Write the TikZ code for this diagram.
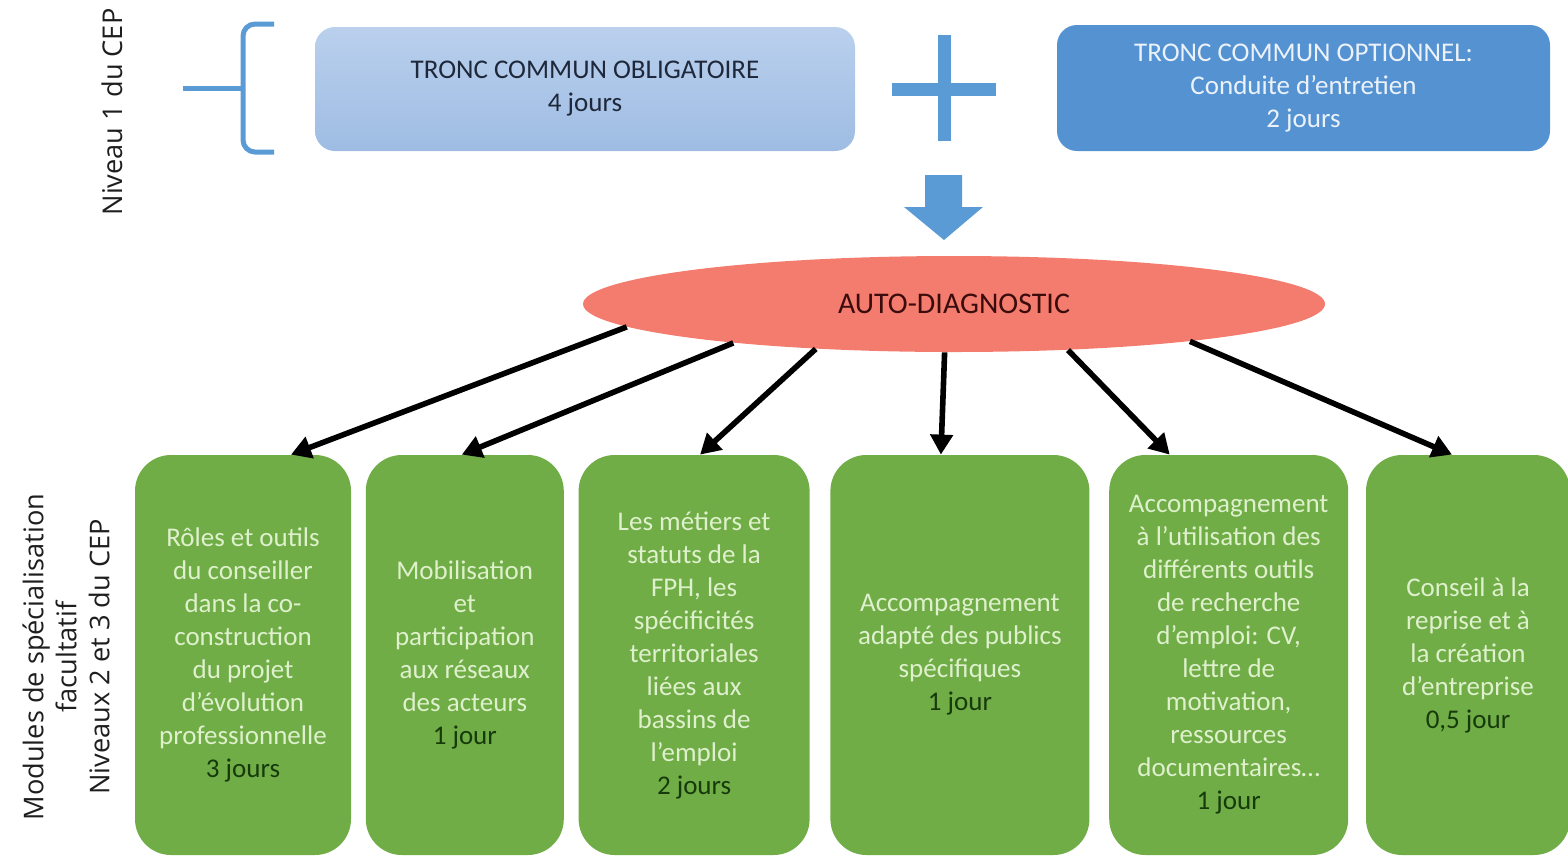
\documentclass[tikz,border=0pt]{standalone}
\usepackage{fontspec}
\setmainfont{Carlito}
\newfontfamily\sidefont{Open Sans}
\usetikzlibrary{positioning,shapes.geometric,arrows.meta}

\definecolor{cepblue}{RGB}{91,155,213}
\definecolor{troncdark}{RGB}{84,146,210}
\definecolor{troncltop}{RGB}{186,208,237}
\definecolor{tronclbot}{RGB}{158,188,227}
\definecolor{tronctext}{RGB}{30,40,58}
\definecolor{troncwhite}{RGB}{236,242,250}
\definecolor{diagred}{RGB}{244,124,110}
\definecolor{diagtext}{RGB}{58,12,12}
\definecolor{modgreen}{RGB}{112,173,71}
\definecolor{modtext}{RGB}{222,240,204}
\definecolor{daytext}{RGB}{22,58,10}
\definecolor{sidegray}{RGB}{30,30,30}

\tikzset{
  tronc/.style={rectangle, rounded corners=10pt, minimum height=62pt, align=center,
    font=\fontsize{13.5}{16.5}\selectfont},
  module/.style={rectangle, rounded corners=18pt, fill=modgreen, text=modtext,
    minimum height=200pt, inner sep=1pt, align=center,
    font=\fontsize{13.5}{16.5}\selectfont},
  niveau/.style={rotate=90, align=center, text=sidegray,
    font=\sidefont\fontsize{13.6}{16.5}\selectfont},
  diagedge/.style={-{Triangle[length=10pt,width=11pt]}, line width=2.8pt},
  bluebar/.style={cepblue, line width=6.5pt},
}
\newcommand{\jours}[1]{\textcolor{daytext}{#1}}

\begin{document}
\begin{tikzpicture}[x=0.5pt,y=-0.5pt]

  \useasboundingbox (0,0) rectangle (1568,858);

  % Nodes

  \node[niveau] (niv_1) at (112,112) {Niveau 1 du CEP};
  \node[niveau] (niv_23) at (66,657) {Modules de spécialisation\\facultatif\\Niveaux 2 et 3 du CEP};

  \node[tronc, minimum width=270pt, top color=troncltop, bottom color=tronclbot,
    text=tronctext] (tc_oblig) at (585,89) {TRONC COMMUN OBLIGATOIRE\\4 jours};
  \node[tronc, minimum width=246.5pt, minimum height=63pt, fill=troncdark,
    text=troncwhite] (tc_option) at (1303.5,88) {TRONC COMMUN OPTIONNEL:\\Conduite d’entretien\\2 jours};

  \node[ellipse, fill=diagred, minimum width=371pt, minimum height=48pt, text=diagtext,
    font=\fontsize{15}{16.5}\selectfont] (autodiag) at (954,304) {AUTO-DIAGNOSTIC};

  \node[module, minimum width=108pt] (mod_roles) at (243,655)
    {Rôles et outils\\du conseiller\\dans la co-\\construction\\du projet\\d’évolution\\professionnelle\\\jours{3 jours}};
  \node[module, minimum width=99pt, right=7pt of mod_roles] (mod_mobil)
    {Mobilisation\\et\\participation\\aux réseaux\\des acteurs\\\jours{1 jour}};
  \node[module, minimum width=115.5pt, right=7pt of mod_mobil] (mod_metiers)
    {Les métiers et\\statuts de la\\FPH, les\\spécificités\\territoriales\\liées aux\\bassins de\\l’emploi\\\jours{2 jours}};
  \node[module, minimum width=129.5pt, right=10pt of mod_metiers] (mod_publics)
    {Accompagnement\\adapté des publics\\spécifiques\\\jours{1 jour}};
  \node[module, minimum width=119.5pt, right=9.5pt of mod_publics] (mod_outils)
    {Accompagnement\\à l’utilisation des\\différents outils\\de recherche\\d’emploi: CV,\\lettre de\\motivation,\\ressources\\documentaires…\\\jours{1 jour}};
  \node[module, minimum width=102pt, right=8.5pt of mod_outils] (mod_creation)
    {Conseil à la\\reprise et à\\la création\\d’entreprise\\\jours{0,5 jour}};

  % Brace, plus and block arrow

  \draw[cepblue, line width=2.5pt, rounded corners=6pt] (274,24) -- (243,24) -- (243,152) -- (274,152);
  \draw[cepblue, line width=2.5pt] (183,88) -- (243,88);

  \draw[bluebar] (892,89) -- (996,89);
  \draw[bluebar] (944,35) -- (944,141);
  \fill[cepblue] (925,175) -- (962,175) -- (962,207) -- (983,207) -- (944,240) -- (904,207) -- (925,207) -- cycle;

  % Edges

  \draw[diagedge] (autodiag.184) -- ([xshift=24pt]mod_roles.north);
  \draw[diagedge] (autodiag.190) -- ([xshift=-1.5pt]mod_mobil.north);
  \draw[diagedge] (autodiag.198) -- ([xshift=3pt]mod_metiers.north);
  \draw[diagedge] (autodiag.259) -- ([xshift=-9.5pt]mod_publics.north);
  \draw[diagedge] (autodiag.338) -- ([xshift=-29.5pt]mod_outils.north);
  \draw[diagedge] (autodiag.351) -- ([xshift=-8pt]mod_creation.north);

\end{tikzpicture}
\end{document}
